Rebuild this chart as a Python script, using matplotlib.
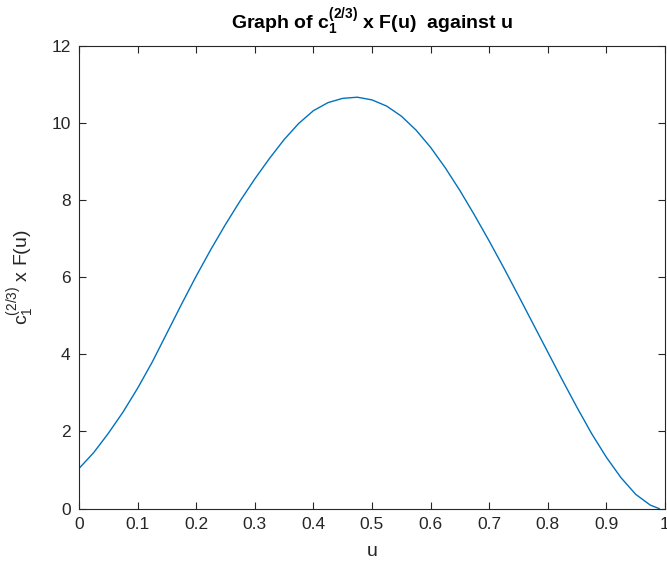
import matplotlib
matplotlib.use('Agg')
import matplotlib.pyplot as plt

plt.rcParams['font.family'] = ['Liberation Sans', 'DejaVu Sans']
plt.rcParams['mathtext.fontset'] = 'custom'
plt.rcParams['mathtext.rm'] = 'Liberation Sans'
plt.rcParams['mathtext.it'] = 'Liberation Sans'
plt.rcParams['mathtext.bf'] = 'Liberation Sans:bold'

# values
u = [0.000, 0.025, 0.050, 0.075, 0.100, 0.125, 0.150, 0.175, 0.200, 0.225,
     0.250, 0.275, 0.300, 0.325, 0.350, 0.375, 0.400, 0.425, 0.450, 0.475,
     0.500, 0.525, 0.550, 0.575, 0.600, 0.625, 0.650, 0.675, 0.700, 0.725,
     0.750, 0.775, 0.800, 0.825, 0.850, 0.875, 0.900, 0.925, 0.950, 0.975,
     0.990]
F = [1.04, 1.45, 1.95, 2.50, 3.12, 3.80, 4.55, 5.30, 6.03, 6.72,
     7.37, 7.98, 8.55, 9.08, 9.57, 9.99, 10.32, 10.53, 10.64, 10.67,
     10.60, 10.44, 10.18, 9.82, 9.37, 8.84, 8.25, 7.61, 6.94, 6.24,
     5.52, 4.79, 4.06, 3.33, 2.62, 1.94, 1.33, 0.80, 0.37, 0.09,
     0.0]
xticks = [0, 0.1, 0.2, 0.3, 0.4, 0.5, 0.6, 0.7, 0.8, 0.9, 1]
yticks = [0, 2, 4, 6, 8, 10, 12]

fig = plt.figure(figsize=(6.67, 5.67), dpi=100)
ax = fig.add_axes([0.1184, 0.103, 0.8786, 0.816])
ax.plot(u, F, color='#0072BD', lw=1.0)

ax.set_xlim(0, 1)
ax.set_ylim(0, 12)
ax.set_xticks(xticks)
ax.set_xticklabels([f'{t:g}' for t in xticks])
ax.set_yticks(yticks)
ax.tick_params(direction='in', top=True, right=True, length=5, width=0.8,
               colors='#262626', labelsize=12.5, pad=6)
for s in ax.spines.values():
    s.set_color('#262626')
    s.set_linewidth(0.8)

ax.set_title(r'Graph of $\mathbf{c_1^{(2/3)}}$ x F(u)  against u',
             fontsize=14, fontweight='bold', color='black', pad=12)
ax.set_xlabel('u', fontsize=14, color='#262626', labelpad=8)
ax.set_ylabel(r'c$_1^{(2/3)}$ x F(u)', fontsize=14, color='#262626', labelpad=10)

fig.savefig('out.png', dpi=100)
